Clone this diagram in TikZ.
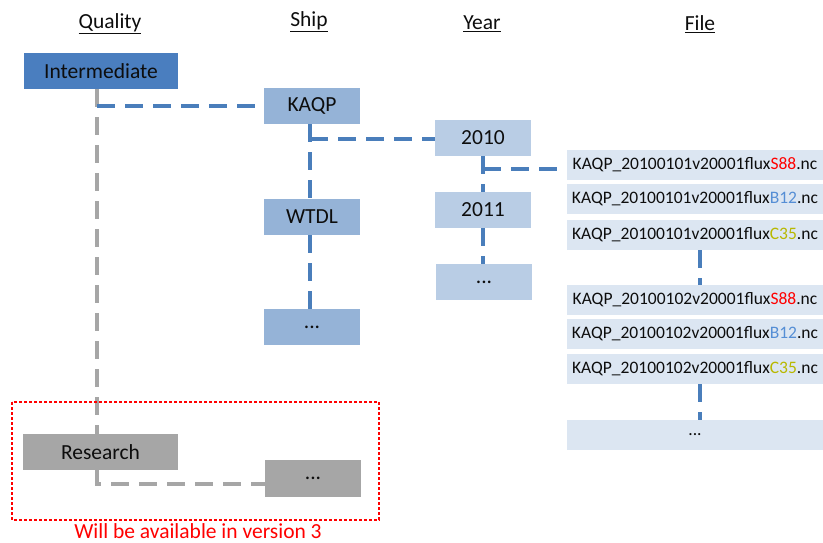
\documentclass[tikz,border=0pt]{standalone}
\usepackage{fontspec}
\setmainfont{Carlito}
\definecolor{dblue}{HTML}{4A7EBF}
\definecolor{mblue}{HTML}{95B3D7}
\definecolor{lblue}{HTML}{B9CDE5}
\definecolor{fblue}{HTML}{DCE6F2}
\definecolor{gbox}{HTML}{A6A6A6}
\definecolor{lineblue}{HTML}{4A7EBB}
\definecolor{linegray}{HTML}{A6A6A6}
\definecolor{cB}{HTML}{558ED5}
\definecolor{cC}{HTML}{B8B800}
\definecolor{txt}{HTML}{0D0D0D}
\tikzset{
  box/.style={inner sep=0pt, text=txt, font=\fontsize{21.5}{24}\selectfont},
  qbox/.style={box, fill=dblue, minimum width=154pt, minimum height=36pt},
  rbox/.style={box, fill=gbox, minimum width=155pt, minimum height=36pt},
  sbox/.style={box, fill=mblue, minimum width=96pt, minimum height=36pt},
  gsbox/.style={box, fill=gbox, minimum width=96pt, minimum height=37pt},
  ybox/.style={box, fill=lblue, minimum width=96pt, minimum height=36pt},
  fbox/.style={inner sep=0pt, text=txt, fill=fblue, minimum width=256pt, minimum height=30pt, font=\fontsize{17.5}{20}\selectfont},
  head/.style={text=txt, font=\fontsize{21.5}{24}\selectfont, inner sep=0pt},
  bl/.style={draw=lineblue, line width=3.1pt, dash pattern=on 18pt off 10pt},
  gl/.style={draw=linegray, line width=3.1pt, dash pattern=on 18pt off 10pt},
}
\begin{document}
\begin{tikzpicture}[x=1pt,y=-1pt]
\useasboundingbox (0,0) rectangle (823,542);
% headings
\node[head] (hq) at (110,24) {\underline{Quality}};
\node[head] (hs) at (309,22) {\underline{Ship}};
\node[head] (hy) at (482,24) {\underline{Year}};
\node[head] (hf) at (700,24) {\underline{File}};
% quality
\node[qbox] (inter) at (101,71) {Intermediate};
\node[rbox] (res) at (100.5,452) {Research};
% ship
\node[sbox] (kaqp) at (312,106) {KAQP};
\node[sbox] (wtdl) at (312,217) {WTDL};
\node[sbox] (sdots) at (312,327) {...};
\node[gsbox] (rdots) at (313,478.5) {...};
% year
\node[ybox] (y2010) at (483,138) {2010};
\node[ybox] (y2011) at (483,210) {2011};
\node[ybox] (ydots) at (484,282) {...};
% files
\node[fbox] (f1) at (695,165) {KAQP\_20100101v20001flux\textcolor{red}{S88}.nc};
\node[fbox] (f2) at (695,199) {KAQP\_20100101v20001flux\textcolor{cB}{B12}.nc};
\node[fbox] (f3) at (695,235) {KAQP\_20100101v20001flux\textcolor{cC}{C35}.nc};
\node[fbox] (f4) at (695,300) {KAQP\_20100102v20001flux\textcolor{red}{S88}.nc};
\node[fbox] (f5) at (695,334) {KAQP\_20100102v20001flux\textcolor{cB}{B12}.nc};
\node[fbox] (f6) at (695,369) {KAQP\_20100102v20001flux\textcolor{cC}{C35}.nc};
\node[fbox] (f7) at (695,435) {...};
% connectors
\coordinate (qa) at (97,89);
\coordinate (qj) at (97,106);
\coordinate (qb) at (97,434);
\draw[gl] (qa) -- (qb);
\draw[bl] (qj) -- (kaqp.west);
\coordinate (kj) at (310,139);
\draw[bl] (kaqp.south -| kj) -- (wtdl.north -| kj);
\draw[bl] (wtdl.south -| kj) -- (sdots.north -| kj);
\draw[bl] (kj) -- (y2010.west |- kj);
\coordinate (yj) at (483,169);
\draw[bl] (y2010.south) -- (y2011.north);
\draw[bl] (y2011.south) -- (y2011.south |- ydots.north);
\draw[bl] (yj) -- (f1.west |- yj);
\coordinate (fx) at (700,0);
\draw[bl] (f3.south -| fx) -- (f4.north -| fx);
\draw[bl] (f6.south -| fx) -- (f7.north -| fx);
\coordinate (ra) at (97,470);
\coordinate (rj) at (97,484);
\draw[gl] (ra) -- (rj) -- (rdots.west |- rj);
% future box
\draw[red, line width=1.2pt, dash pattern=on 3pt off 2pt] (12,402) rectangle (379,520);
\node[text=red, font=\fontsize{21.5}{24}\selectfont, inner sep=0pt, anchor=base] (note) at (198,538) {Will be available in version 3};
\end{tikzpicture}
\end{document}
